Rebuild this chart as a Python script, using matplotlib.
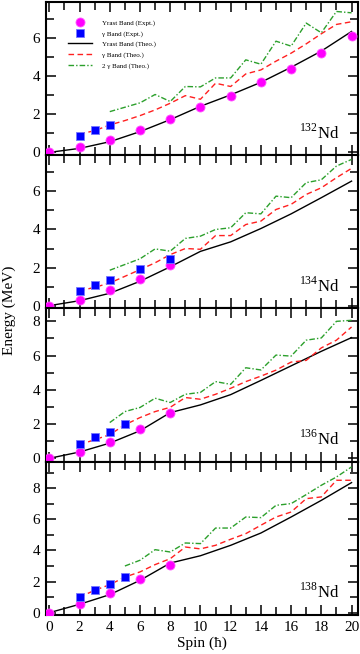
import matplotlib
matplotlib.use('Agg')
import matplotlib.pyplot as plt
from matplotlib.ticker import MultipleLocator

plt.rcParams.update({
    'font.family': ['Liberation Serif', 'DejaVu Serif'],
    'mathtext.fontset': 'custom',
    'mathtext.rm': 'Liberation Serif',
    'font.size': 11,
})

# spin values
spin_yrast = [0, 2, 4, 6, 8, 10, 12, 14, 16, 18, 20]
spin_gamma_th = list(range(2, 21))

# 132Nd
yrast_exp_132 = [0, 0.26, 0.65, 1.18, 1.75, 2.37, 2.98, 3.68, 4.40, 5.21, 6.11]
spin_gexp_132 = [2, 3, 4]
gamma_exp_132 = [0.84, 1.16, 1.42]
yrast_th_132 = [0, 0.21, 0.56, 1.09, 1.72, 2.42, 3.02, 3.68, 4.47, 5.32, 6.35]
gamma_th_132 = [0.96, 1.14, 1.44, 1.67, 1.93, 2.23, 2.58, 2.98, 2.79, 3.63, 3.46,
                4.12, 4.33, 4.79, 5.21, 5.70, 6.23, 6.72, 6.86]
spin_2g_132 = list(range(4, 21))
twog_th_132 = [2.14, 2.37, 2.60, 3.04, 2.67, 3.46, 3.44, 3.91, 3.91, 4.86, 4.63,
               5.84, 5.58, 6.79, 6.28, 7.40, 7.33]

# 134Nd
spin_yexp_134 = [0, 2, 4, 6, 8]
yrast_exp_134 = [0, 0.32, 0.81, 1.42, 2.12]
spin_gexp_134 = [2, 3, 4, 6, 8]
gamma_exp_134 = [0.77, 1.11, 1.33, 1.93, 2.47]
yrast_th_134 = [0, 0.26, 0.65, 1.28, 2.04, 2.85, 3.35, 4.05, 4.82, 5.67, 6.54]
gamma_th_134 = [0.78, 0.96, 1.19, 1.54, 1.89, 2.25, 2.68, 3.00, 2.96, 3.68, 3.68,
                4.26, 4.44, 5.05, 5.32, 5.84, 6.19, 6.72, 7.21]
spin_2g_134 = list(range(4, 21))
twog_th_134 = [1.86, 2.16, 2.46, 2.98, 2.86, 3.53, 3.65, 4.00, 4.09, 4.88, 4.82,
               5.75, 5.67, 6.46, 6.61, 7.33, 7.68]

# 136Nd
spin_yexp_136 = [0, 2, 4, 6, 8]
yrast_exp_136 = [0, 0.37, 0.97, 1.72, 2.64]
spin_gexp_136 = [2, 3, 4, 5]
gamma_exp_136 = [0.85, 1.24, 1.53, 2.03]
yrast_th_136 = [0, 0.37, 0.89, 1.61, 2.67, 3.12, 3.72, 4.55, 5.40, 6.25, 7.05]
gamma_th_136 = [0.79, 1.09, 1.38, 1.96, 2.38, 2.73, 2.98, 3.55, 3.45, 3.74, 4.09,
                4.48, 4.80, 5.15, 5.62, 5.72, 6.45, 6.90, 7.67]
spin_2g_136 = list(range(4, 21))
twog_th_136 = [2.09, 2.73, 2.97, 3.51, 3.26, 3.74, 3.85, 4.48, 4.32, 5.29, 5.16,
               6.03, 5.97, 6.90, 7.03, 8.00, 8.06]

# 138Nd
spin_yexp_138 = [0, 2, 4, 6, 8]
yrast_exp_138 = [0, 0.54, 1.24, 2.14, 3.09]
spin_gexp_138 = [2, 3, 4, 5]
gamma_exp_138 = [1.03, 1.46, 1.86, 2.27]
yrast_th_138 = [0, 0.54, 1.16, 2.08, 3.19, 3.66, 4.33, 5.12, 6.15, 7.22, 8.36]
gamma_th_138 = [1.00, 1.44, 1.80, 2.29, 2.62, 3.09, 3.47, 4.22, 4.10, 4.33, 4.72,
                5.08, 5.62, 6.15, 6.47, 7.33, 7.44, 8.51, 8.51]
spin_2g_138 = list(range(5, 21))
twog_th_138 = [3.00, 3.37, 4.05, 3.90, 4.48, 4.44, 5.44, 5.44, 6.15, 6.11, 6.90,
               7.01, 7.59, 8.19, 8.72, 9.37]

nuclei = ['132', '134', '136', '138']
ylims = [(-0.15, 7.9), (-0.15, 7.9), (-0.2, 8.75), (-0.15, 9.7)]

panels = [
    (spin_yrast, yrast_exp_132, spin_gexp_132, gamma_exp_132, yrast_th_132,
     gamma_th_132, spin_2g_132, twog_th_132),
    (spin_yexp_134, yrast_exp_134, spin_gexp_134, gamma_exp_134, yrast_th_134,
     gamma_th_134, spin_2g_134, twog_th_134),
    (spin_yexp_136, yrast_exp_136, spin_gexp_136, gamma_exp_136, yrast_th_136,
     gamma_th_136, spin_2g_136, twog_th_136),
    (spin_yexp_138, yrast_exp_138, spin_gexp_138, gamma_exp_138, yrast_th_138,
     gamma_th_138, spin_2g_138, twog_th_138),
]

fig, axes = plt.subplots(4, 1, figsize=(3.6, 6.54), dpi=100, sharex=True)
fig.subplots_adjust(left=0.127, right=0.995, bottom=0.0596, top=0.997, hspace=0)

for i, (ax, p) in enumerate(zip(axes, panels)):
    sy, ye, sg, ge, yt, gt, s2, t2 = p
    l3, = ax.plot(spin_yrast, yt, color='black', lw=1.0, label='Yrast Band (Theo.)')
    l4, = ax.plot(spin_gamma_th, gt, color='#ff2020', lw=1.0, dashes=(4, 2.5),
                  label=u'\u03b3 Band (Theo.)')
    l5, = ax.plot(s2, t2, color='#2ca02c', lw=1.0, dashes=(4, 1.5, 1, 1.5),
                  label=u'2 \u03b3 Band (Theo.)')
    l1, = ax.plot(sy, ye, 'o', color='#ff00ff', ms=6.5, mec='#ff55ff', mew=0.6,
                  label='Yrast Band (Expt.)', zorder=5)
    l2, = ax.plot(sg, ge, 's', color='#0000ff', ms=5.2, mec='#7777ff', mew=0.6,
                  label=u'\u03b3 Band (Expt.)', zorder=5)

    ax.set_xlim(-0.24, 20.44)
    ax.set_ylim(*ylims[i])
    ax.xaxis.set_major_locator(MultipleLocator(2))
    ax.xaxis.set_minor_locator(MultipleLocator(1))
    ax.yaxis.set_major_locator(MultipleLocator(2))
    ax.yaxis.set_minor_locator(MultipleLocator(1))
    ax.tick_params(which='both', direction='in', top=True, right=True, width=1.1)
    ax.tick_params(which='major', length=7.5, pad=4)
    ax.tick_params(which='minor', length=6)
    for sp in ax.spines.values():
        sp.set_linewidth(1.5)

    ax.text(0.941, 0.11, r'$^{%s}$Nd' % nuclei[i], transform=ax.transAxes,
            ha='right', va='baseline', fontsize=12)

    if i == 0:
        ax.legend(handles=[l1, l2, l3, l4, l5], loc='upper left',
                  bbox_to_anchor=(0.07, 0.885), frameon=False, fontsize=5,
                  handlelength=3.46, handletextpad=1.5, borderpad=0,
                  borderaxespad=0, labelspacing=0.65, markerscale=1.0)

axes[-1].set_xlabel(u'Spin (\u0127)', labelpad=2)
fig.text(0.025, 0.526, 'Energy (MeV)', rotation=90, ha='center', va='center')

fig.savefig('out.png', dpi=100)
